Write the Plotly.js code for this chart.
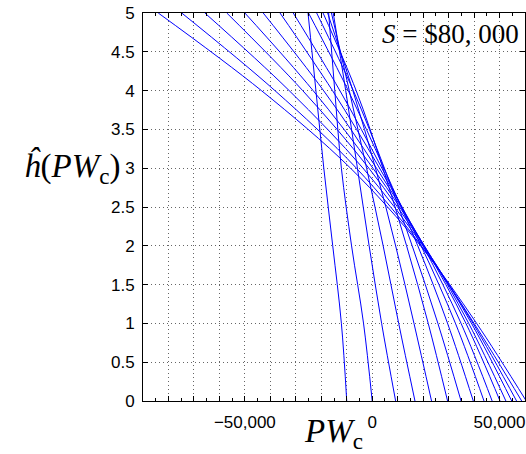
<!DOCTYPE html>
<html>
<head>
<meta charset="utf-8">
<script src="https://cdn.plot.ly/plotly-3.0.1.min.js"></script>
<style>html,body{margin:0;padding:0;background:#fff;}</style>
</head>
<body>
<div id="chart" style="width:526px;height:454px;"></div>
<script>
// h levels at which each curve's PW_c value was read
const hLevels = [0, 1, 2, 3, 4, 5];
// PW_c values (dollars) of each curve at the h levels above
const pw01 = [-10000, -12100, -15500, -19000, -22100, -25200];
const pw02 = [0, -3400, -8100, -12100, -14700, -17100];
const pw03 = [9200, 3700, -1200, -5800, -10400, -15300];
const pw04 = [16800, 10400, 4300, -2200, -9000, -16000];
const pw05 = [23300, 16400, 9200, 1300, -7600, -17500];
const pw06 = [29600, 22000, 13500, 4200, -6300, -19300];
const pw07 = [34900, 25800, 15700, 4800, -7400, -21800];
const pw08 = [39700, 29600, 17900, 4600, -9400, -25000];
const pw09 = [43900, 32700, 19200, 3800, -12700, -31000];
const pw10 = [47100, 34900, 20000, 2900, -15600, -36200];
const pw11 = [50200, 36800, 20400, 1700, -19100, -42800];
const pw12 = [52500, 37900, 20500, 300, -23200, -50000];
const pw13 = [54800, 39000, 20300, -1300, -27300, -57100];
const pw14 = [56700, 39600, 19900, -3600, -32600, -65700];
const pw15 = [58700, 40000, 19300, -6200, -38200, -74800];
const pw16 = [60500, 41000, 19000, -8500, -43500, -84000];

const xTickVals = [-90000, -80000, -70000, -60000, -50000, -40000, -30000, -20000,
                   -10000, 0, 10000, 20000, 30000, 40000, 50000, 60000];
const xTickText = ['', '', '', '', '\u221250,000', '', '', '', '', '0', '', '', '', '', '50,000', ''];
const yTickVals = [0, 0.5, 1, 1.5, 2, 2.5, 3, 3.5, 4, 4.5, 5];
const yTickText = ['0', '0.5', '1', '1.5', '2', '2.5', '3', '3.5', '4', '4.5', '5'];
const annotationText = '<i>S</i> = $80, 000';

const curves = [pw01, pw02, pw03, pw04, pw05, pw06, pw07, pw08,
                pw09, pw10, pw11, pw12, pw13, pw14, pw15, pw16];

const traces = curves.map(pw => ({
  x: pw, y: hLevels, type: 'scatter', mode: 'lines',
  line: {color: '#0000ff', width: 1, shape: 'spline', smoothing: 1},
  hoverinfo: 'skip'
}));

const gridCol = 'rgba(0,0,0,0.6)';
const gridDash = '1px,3px';
const tickFont = {family: 'Liberation Sans, Arial, sans-serif', size: 17, color: '#000'};

const layout = {
  width: 526, height: 454,
  margin: {l: 143, r: 1, t: 13, b: 53},
  paper_bgcolor: '#fff', plot_bgcolor: '#fff',
  showlegend: false,
  xaxis: {
    range: [-90000, 60000], tickmode: 'array', tickvals: xTickVals, ticktext: xTickText,
    ticks: 'inside', ticklen: 5, tickcolor: '#000', tickwidth: 1,
    showline: true, linecolor: '#000', linewidth: 1, mirror: 'ticks',
    showgrid: true, gridcolor: gridCol, griddash: gridDash, gridwidth: 1,
    zeroline: false, tickfont: tickFont, ticklabelstandoff: 6,
    minor: {tick0: 0, dtick: 5000, ticks: 'inside', ticklen: 3, tickcolor: '#000', showgrid: false},
    title: {text: '<i>PW</i><sub>c</sub>', font: {family: 'Liberation Serif, serif', size: 33, color: '#000'}, standoff: 6}
  },
  yaxis: {
    range: [0, 5], tickmode: 'array', tickvals: yTickVals, ticktext: yTickText,
    ticks: 'inside', ticklen: 5, tickcolor: '#000', tickwidth: 1,
    showline: true, linecolor: '#000', linewidth: 1, mirror: 'ticks',
    showgrid: true, gridcolor: gridCol, griddash: gridDash, gridwidth: 1,
    zeroline: false, tickfont: tickFont, ticklabelstandoff: 4
  },
  annotations: [
    {text: '<i>\u0125</i>(<i>PW</i><sub>c</sub>)', xref: 'paper', yref: 'y', x: -0.055, y: 3,
     xanchor: 'right', yanchor: 'middle', showarrow: false,
     font: {family: 'Liberation Serif, serif', size: 33, color: '#000'}},
    {text: annotationText, xref: 'paper', yref: 'paper', x: 0.99, y: 0.99,
     xanchor: 'right', yanchor: 'top', showarrow: false,
     font: {family: 'Liberation Serif, serif', size: 27, color: '#000'}}
  ]
};

Plotly.newPlot('chart', traces, layout, {displayModeBar: false, staticPlot: true});
</script>
</body>
</html>
